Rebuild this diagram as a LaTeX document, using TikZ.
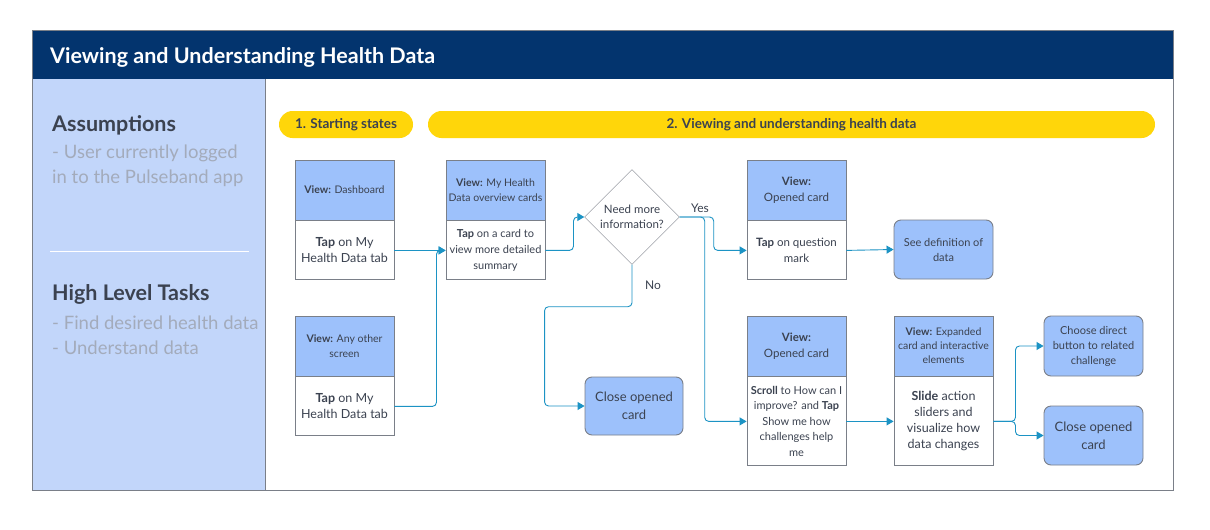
\documentclass[tikz,border=0pt]{standalone}
\usepackage{fontspec}
\setmainfont{Lato}
\usetikzlibrary{arrows.meta, positioning, shapes.geometric}
\definecolor{headnavy}{HTML}{03346E}
\definecolor{panelblue}{HTML}{C2D6FA}
\definecolor{cardblue}{HTML}{9DC1FB}
\definecolor{pillyellow}{HTML}{FFD60A}
\definecolor{flowteal}{HTML}{1C93C4}
\definecolor{edgegray}{HTML}{7A7F88}
\definecolor{inkgray}{HTML}{3B4250}
\definecolor{softgray}{HTML}{A3ABBB}

\newcommand{\fs}[2]{\fontsize{#1}{#2}\selectfont}

\begin{document}
\begin{tikzpicture}[
  x=1pt, y=-1pt,
  card/.style={draw=edgegray, line width=0.9pt, minimum width=99pt,
               align=center, inner sep=1pt, text=inkgray, font=\fs{12.5}{16}},
  viewcard/.style={card, fill=cardblue, minimum height=60pt, font=\fs{10.5}{15}},
  taskcard/.style={card, fill=white, minimum height=59pt},
  endcard/.style={card, fill=cardblue, rounded corners=7pt, minimum height=59pt},
  pill/.style={fill=pillyellow, rounded corners=13.5pt, minimum height=27pt,
               font=\fs{13.5}{15}\bfseries, text=inkgray},
  decide/.style={diamond, draw=edgegray, fill=white, aspect=1, inner sep=0pt,
                 minimum width=95pt, minimum height=95pt, align=center,
                 text=inkgray, font=\fs{11.5}{15}},
  flow/.style={flowteal, line width=0.9pt, rounded corners=4pt,
               -{Triangle[length=7pt, width=8pt]}},
  lbl/.style={text=inkgray, font=\fs{12}{14}},
  panelhead/.style={anchor=base west, inner sep=0pt, text=inkgray, font=\fs{21.5}{24}\bfseries},
  paneltext/.style={anchor=base west, inner sep=0pt, text=softgray, font=\fs{18.5}{22}}
]
\useasboundingbox (0,0) rectangle (1210,530);

% frame, header and side panel
\draw[edgegray, fill=white] (32,30) rectangle (1173,490);
\fill[headnavy] (32,30) rectangle (1173,79);
\fill[panelblue] (32,79) rectangle (265,490);
\draw[edgegray] (265,79) -- (265,490);
\draw[edgegray] (32,30) rectangle (1173,490);
\node[anchor=base west, inner sep=0pt, text=white, font=\fs{21.5}{24}\bfseries] (title) at (50,63)
  {Viewing and Understanding Health Data};

\node[panelhead]  (assume) at (52,131) {Assumptions};
\node[paneltext]  (assume1) at (52,158) {- User currently logged};
\node[paneltext]  (assume2) at (52,183) {in to the Pulseband app};
\draw[white, line width=0.8pt] (50,251) -- (249,251);
\node[panelhead]  (tasks) at (52,300) {High Level Tasks};
\node[paneltext]  (tasks1) at (52,329) {- Find desired health data};
\node[paneltext]  (tasks2) at (52,354) {- Understand data};

% phase pills
\node[pill, minimum width=134pt] (phase1) at (346,124.5) {1. Starting states};
\node[pill, minimum width=727pt] (phase2) at (791.5,124.5) {2. Viewing and understanding health data};

% starting states
\node[viewcard] (dashV) at (344.5,190) {\textbf{View:} Dashboard};
\node[taskcard, below=0pt of dashV] (dashT) {\textbf{Tap} on My\\Health Data tab};
\node[viewcard] (otherV) at (344.5,346) {\textbf{View:} Any other\\screen};
\node[taskcard, below=0pt of otherV] (otherT) {\textbf{Tap} on My\\Health Data tab};

% overview cards
\node[viewcard] (oviewV) at (495.5,190) {\textbf{View:} My Health\\Data overview cards};
\node[taskcard, below=0pt of oviewV, font=\fs{11}{16}] (oviewT)
  {\textbf{Tap} on a card to\\view more detailed\\summary};

\node[decide] (need) at (632,217) {Need more\\information?};

\node[viewcard, font=\fs{11.5}{15.5}] (openV) at (796.5,190) {\textbf{View:}\\Opened card};
\node[taskcard, below=0pt of openV, font=\fs{11.5}{16}] (openT) {\textbf{Tap} on question\\mark};
\node[endcard, font=\fs{11}{15}] (defn) at (943.5,249.5) {See definition of\\data};

\node[endcard, minimum width=98pt, minimum height=58pt, font=\fs{13}{18}] (closeA) at (634,406) {Close opened\\card};

\node[viewcard, font=\fs{11.5}{15.5}] (open2V) at (796.5,346) {\textbf{View:}\\Opened card};
\node[taskcard, below=0pt of open2V, minimum height=89pt, font=\fs{11}{15.5}] (open2T)
  {\textbf{Scroll} to How can I\\improve? and \textbf{Tap}\\Show me how\\challenges help\\me};
\node[viewcard, font=\fs{10.5}{14}] (expV) at (943.5,346) {\textbf{View:} Expanded\\card and interactive\\elements};
\node[taskcard, below=0pt of expV, minimum height=89pt, font=\fs{12.5}{16}] (expT)
  {\textbf{Slide} action\\sliders and\\visualize how\\data changes};

\node[endcard, minimum height=60pt, font=\fs{11}{15}] (choose) at (1093.5,346)
  {Choose direct\\button to related\\challenge};
\node[endcard, font=\fs{13}{18}] (close2) at (1093.5,435.5) {Close opened\\card};

% connectors
\draw[flow] (dashT.east) -- (oviewT.west);
\draw[flow] (otherT.east) -- ++(42,0) |- (oviewT.west);
\draw[flow] (oviewT.east) -- ++(28,0) |- (need.west);
\draw[flow] (need.east) -- ++(34,0) |- (openT.west);
\draw[flow] (need.east) -- ++(25,0) |- (open2T.west);
\draw[flow] (need.south) -- ++(0,42) -| ([xshift=-40pt]closeA.west) -- (closeA.west);
\draw[flow] (openT.east) -- (defn.west);
\draw[flow] (open2T.east) -- (expT.west);
\draw[flow] (expT.east) -- ++(22,0) |- (choose.west);
\draw[flow] (expT.east) -- ++(22,0) |- (close2.west);

\node[lbl] (yes) at (700,208) {Yes};
\node[lbl] (no) at (653,285) {No};
\end{tikzpicture}
\end{document}
